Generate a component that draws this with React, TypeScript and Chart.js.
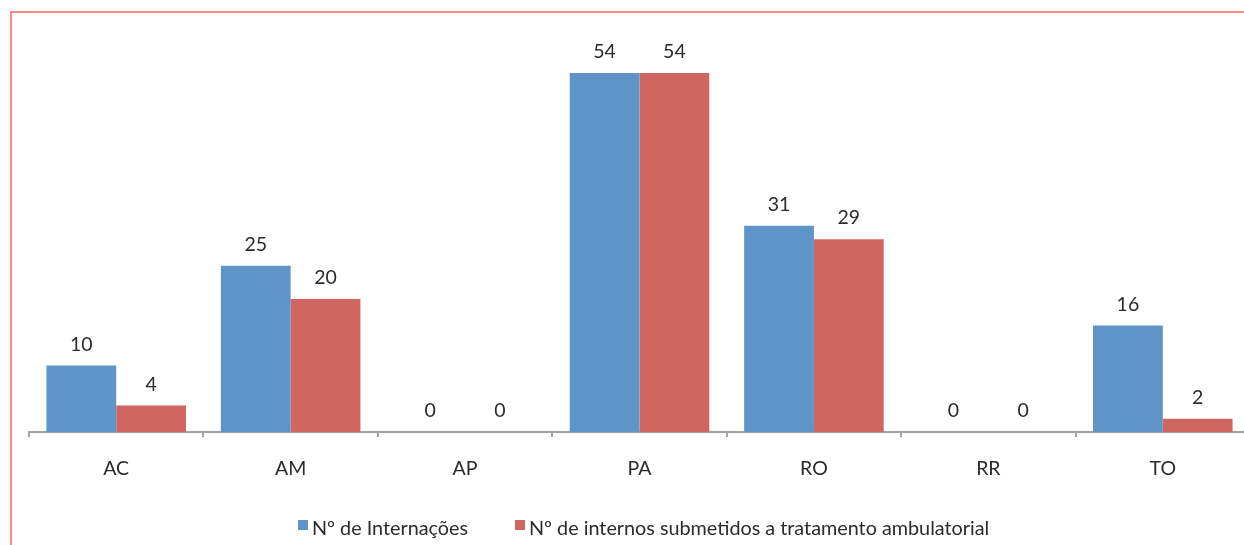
import React, { useEffect, useRef } from "react";
import { Chart, registerables } from "chart.js";

Chart.register(...registerables);

const categories = ["AC", "AM", "AP", "PA", "RO", "RR", "TO"];
const internacoes = [10, 25, 0, 54, 31, 0, 16];
const ambulatorial = [4, 20, 0, 54, 29, 0, 2];
const seriesLabels = [
  "Nº de Internações",
  "Nº de internos submetidos a tratamento ambulatorial",
];
const seriesColors = ["#5f94c9", "#cf6660"];

const FONT = "Lato, 'Open Sans', sans-serif";
const TEXT = "#2b2b2b";

const valueLabels = {
  id: "valueLabels",
  afterDatasetsDraw(chart: any) {
    const ctx = chart.ctx;
    ctx.save();
    ctx.font = `19.5px ${FONT}`;
    ctx.fillStyle = TEXT;
    ctx.textAlign = "center";
    ctx.textBaseline = "middle";
    chart.data.datasets.forEach((ds: any, i: number) => {
      const meta = chart.getDatasetMeta(i);
      meta.data.forEach((el: any, j: number) => {
        ctx.fillText(String(ds.data[j]), el.x, el.y - 21);
      });
    });
    ctx.restore();
  },
};

export default function App() {
  const ref = useRef<HTMLCanvasElement>(null);

  useEffect(() => {
    if (!ref.current) return;
    const chart = new Chart(ref.current, {
      type: "bar",
      data: {
        labels: categories,
        datasets: [
          {
            label: seriesLabels[0],
            data: internacoes,
            backgroundColor: seriesColors[0],
            categoryPercentage: 0.8,
            barPercentage: 1,
          },
          {
            label: seriesLabels[1],
            data: ambulatorial,
            backgroundColor: seriesColors[1],
            categoryPercentage: 0.8,
            barPercentage: 1,
          },
        ],
      },
      options: {
        responsive: false,
        animation: false,
        layout: { padding: { left: 29, right: 10, top: 33, bottom: 0 } },
        plugins: {
          legend: { display: false },
          tooltip: { enabled: false },
        },
        scales: {
          y: { display: false, min: 0, max: 60 },
          x: {
            afterFit: (scale: any) => {
              scale.height = 113;
            },
            grid: {
              display: true,
              offset: true,
              drawOnChartArea: false,
              drawTicks: true,
              tickLength: 5,
              color: "#a3a3a3",
              lineWidth: 2,
            },
            border: { display: true, color: "#a3a3a3", width: 2 },
            ticks: {
              padding: 20,
              color: TEXT,
              font: { family: FONT, size: 19.5 },
            },
          },
        },
      },
      plugins: [valueLabels],
    });
    return () => chart.destroy();
  }, []);

  return (
    <div
      style={{
        position: "absolute",
        left: 0,
        top: 0,
        width: 1244,
        height: 545,
        overflow: "hidden",
        background: "#fff",
      }}
    >
      <div
        style={{
          position: "absolute",
          left: 10,
          top: 11,
          width: 1400,
          height: 700,
          borderLeft: "2px solid #ff8a8a",
          borderTop: "2px solid #ff8a8a",
        }}
      />
      <canvas
        ref={ref}
        width={1260}
        height={545}
        style={{ position: "absolute", left: 0, top: 0, width: 1260, height: 545 }}
      />
      {seriesLabels.map((label, i) => (
        <div
          key={label}
          style={{
            position: "absolute",
            left: i === 0 ? 298 : 515,
            top: 515,
            display: "flex",
            alignItems: "center",
            fontFamily: FONT,
            fontSize: 19.8,
            color: TEXT,
            whiteSpace: "nowrap",
            lineHeight: "24px",
          }}
        >
          <span
            style={{
              display: "inline-block",
              width: 10,
              height: 10,
              background: seriesColors[i],
              marginRight: 4,
              marginTop: -4,
            }}
          />
          {label}
        </div>
      ))}
    </div>
  );
}
